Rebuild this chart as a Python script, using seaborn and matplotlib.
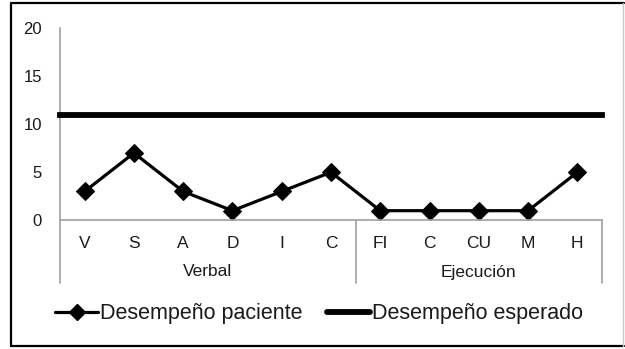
import matplotlib
matplotlib.use("Agg")
import matplotlib.pyplot as plt
import matplotlib.transforms as mtransforms
from matplotlib.lines import Line2D
import numpy as np
import pandas as pd
import seaborn as sns

# ---- data ----
categories = ["V", "S", "A", "D", "I", "C", "FI", "C", "CU", "M", "H"]
groups = ["Verbal", "Ejecución"]
group_sizes = [6, 5]
paciente = [3, 7, 3, 1, 3, 5, 1, 1, 1, 1, 5]
esperado = 10.9
y_ticks = [0, 5, 10, 15, 20]

sns.set_theme(style="white")
plt.rcParams["font.family"] = ["Liberation Sans", "DejaVu Sans"]

fig = plt.figure(figsize=(6.25, 3.49), dpi=100)
ax = fig.add_axes([60/625, 1-220.3/349, (602-60)/625, (220.3-28)/349])

df = pd.DataFrame({"pos": np.arange(len(categories)), "valor": paciente})
sns.lineplot(data=df, x="pos", y="valor", ax=ax, color="black", linewidth=2.3,
             marker="D", markersize=9, markeredgecolor="black", label="Desempeño paciente",
             legend=False)
ax.axhline(esperado, color="black", linewidth=4.2, solid_capstyle="projecting",
           zorder=3, clip_on=False)

n = len(categories)
ax.set_xlim(-0.5, n - 0.5)
ax.set_ylim(y_ticks[0], y_ticks[-1])
ax.set_yticks(y_ticks)
ax.set_yticklabels([str(t) for t in y_ticks], fontsize=12, color="#1a1a1a")
ax.set_xticks(np.arange(n))
ax.set_xticklabels(categories, fontsize=12.5, color="#1a1a1a")
ax.tick_params(axis="y", length=0, pad=13)
ax.tick_params(axis="x", length=0, pad=11)
ax.set_xlabel("")
ax.set_ylabel("")

gray = "#A0A0A0"
for s in ["top", "right"]:
    ax.spines[s].set_visible(False)
for s in ["left", "bottom"]:
    ax.spines[s].set_color(gray)
    ax.spines[s].set_linewidth(1.2)

# group separators and labels
trans = mtransforms.blended_transform_factory(ax.transData, ax.transAxes)
bounds = np.concatenate([[0], np.cumsum(group_sizes)]) - 0.5
for b in bounds:
    ax.plot([b, b], [0, -62.7/192.3], transform=trans, color=gray, linewidth=1.2,
            clip_on=False)
for g, lo, hi in zip(groups, bounds[:-1], bounds[1:]):
    ax.text((lo + hi) / 2, -(272 - 220.3)/192.3, g, transform=trans, ha="center",
            va="center", fontsize=12.5, color="#1a1a1a")

# legend
handles = [Line2D([], [], color="black", linewidth=2.3, marker="D", markersize=8),
           Line2D([], [], color="black", linewidth=4.2)]
fig.legend(handles, ["Desempeño paciente", "Desempeño esperado"], loc="center",
           bbox_to_anchor=(319/625, 1-314/349), ncol=2, frameon=False, fontsize=15.5,
           handlelength=2.0, handletextpad=0.1, columnspacing=1.1, labelcolor="#1a1a1a")

# outer frame
fig.add_artist(Line2D([11/625, 11/625], [1-346/349, 1-3/349], color="black", linewidth=1.6))
fig.add_artist(Line2D([11/625, 624/625], [1-3/349, 1-3/349], color="black", linewidth=1.6))
fig.add_artist(Line2D([11/625, 624/625], [1-346/349, 1-346/349], color="black", linewidth=1.6))
fig.add_artist(Line2D([623/625, 623/625], [1-346/349, 1-3/349], color="#C8C8C8", linewidth=1.0))

fig.savefig("out.png", dpi=100)
